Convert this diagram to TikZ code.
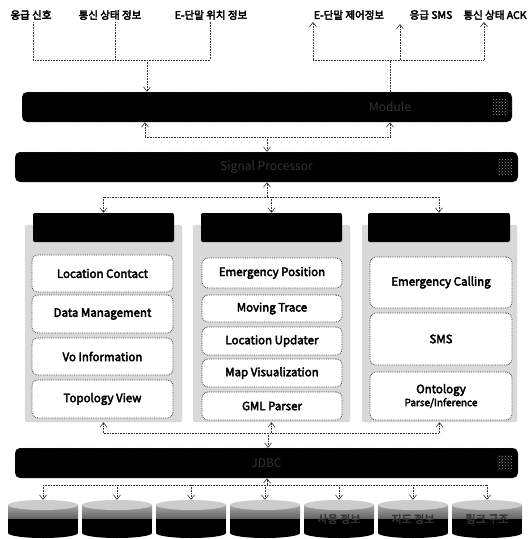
\documentclass[tikz,border=0pt]{standalone}
\usepackage{fontspec}
\setmainfont{Noto Sans CJK KR}[AutoFakeBold=3.5]
\usetikzlibrary{arrows.meta,patterns}

\begin{document}
\begin{tikzpicture}[x=1pt,y=-1pt,font=\bfseries\fontsize{11.5}{13}\selectfont,>={Straight Barb[length=4.5pt,width=7pt]},
lbl/.style={font=\bfseries\fontsize{10.5}{12}\selectfont, inner sep=2pt},
bar/.style={fill=black, draw=gray!60, densely dotted, rounded corners=5pt, inner sep=0pt, minimum width=503pt, minimum height=30pt, text=gray!40!black, font=\fontsize{12}{13}\selectfont},
icon/.style={pattern=crosshatch dots, pattern color=gray!75, minimum size=15pt, inner sep=0pt},
head/.style={fill=black, rounded corners=2pt, minimum width=141pt, minimum height=29pt, inner sep=0pt},
panel/.style={fill=gray!30, draw=gray!55, densely dotted, rounded corners=2pt, inner sep=0pt, minimum height=197pt},
item/.style={draw=black!75, fill=white, densely dotted, thick, rounded corners=6pt, align=center, inner sep=0pt},
db/.style={minimum width=70pt, minimum height=38pt, inner sep=0pt, text=gray!40!black, font=\bfseries\fontsize{11}{12}\selectfont,
  path picture={
    \shade[top color=gray!50, bottom color=black] ([yshift=-5pt]path picture bounding box.north west) rectangle ([yshift=19pt]path picture bounding box.south east);
    \fill[black] ([yshift=19.5pt]path picture bounding box.south west) rectangle ([yshift=5pt]path picture bounding box.south east);
    \fill[black] ([yshift=5pt]path picture bounding box.south) ellipse [x radius=35pt, y radius=5pt];
    \fill[gray!40] ([yshift=-5pt]path picture bounding box.north) ellipse [x radius=35pt, y radius=5pt];}},
link/.style={densely dotted, semithick, black!80},
arrow/.style={link, ->}]
\useasboundingbox (0,0) rectangle (529,539);
% input / output labels
\node[lbl] (sig) at (31,15) {응급 신호};
\node[lbl] (stat) at (110,15) {통신 상태 정보};
\node[lbl] (pos) at (211,15) {E-단말 위치 정보};
\node[lbl] (ctl) at (349,15) {E-단말 제어정보};
\node[lbl] (sms) at (431,15) {응급 SMS};
\node[lbl] (ack) at (495,15) {통신 상태 ACK};
% bars
\node[bar, minimum width=490pt] (comm) at (267,107) {};
\node[text=gray!40!black, font=\fontsize{12}{13}\selectfont] (modtxt) at (390,107) {Module};
\node[bar] (proc) at (266.5,167) {Signal Processor};
\node[bar] (jdbc) at (266.5,463) {JDBC};
\node[icon] (ic1) at (500,107) {};
\node[icon] (ic2) at (505,167) {};
\node[icon] (ic3) at (505,463) {};
% inputs to bar
\coordinate (inl) at (33,60);\coordinate (inr) at (210,60);\coordinate (inj) at (147,60);
\draw[link] (sig.south -| inl) -- (inl) -- (inr) -- (inr |- pos.south);
\draw[link] (stat.south -| 115,0) -- (115,60);
\draw[arrow] (inj) -- (inj |- comm.north);
% bar to outputs
\coordinate (outl) at (313,60);\coordinate (outr) at (484,60);\coordinate (outj) at (390,60);
\draw[link] (outl) -- (outr);
\draw[arrow] (outl) -- (outl |- ctl.south);\draw[arrow] (400,60) -- (400,24);\draw[arrow] (outr) -- (outr |- ack.south);
\draw[link] (outj |- comm.north) -- (outj);
% bar 1 <-> bar 2
\coordinate (j1l) at (145,137);\coordinate (j1r) at (390,137);\coordinate (j1) at (267,137);
\draw[link] (j1l) -- (j1r);
\draw[arrow] (j1l) -- (j1l |- comm.south);\draw[arrow] (j1r) -- (j1r |- comm.south);
\draw[arrow] (j1) -- (j1 |- proc.north);
% modules
\node[panel, minimum width=157pt] (pan1) at (103.5,323.5) {};
\node[panel, minimum width=157pt] (pan2) at (271.5,323.5) {};
\node[panel, minimum width=155pt] (pan3) at (439.5,323.5) {};
\node[head] (head1) at (103.5,227.5) {};
\node[head] (head2) at (271.5,227.5) {};
\node[head, minimum width=142pt] (head3) at (439,227.5) {};
\node[item, minimum width=141pt, minimum height=37pt] (loc) at (102.5,273.5) {Location Contact};
\node[item, minimum width=141pt, minimum height=38pt] (data) at (102.5,314) {Data Management};
\node[item, minimum width=141pt, minimum height=37pt] (vo) at (102.5,356.5) {Vo Information};
\node[item, minimum width=141pt, minimum height=38pt] (topo) at (102.5,399) {Topology View};
\node[item, minimum width=140pt, minimum height=30pt] (emp) at (272,273) {Emergency Position};
\node[item, minimum width=140pt, minimum height=27pt] (trace) at (272,308.5) {Moving Trace};
\node[item, minimum width=140pt, minimum height=28pt] (upd) at (272,341) {Location Updater};
\node[item, minimum width=140pt, minimum height=28pt] (map) at (272,373) {Map Visualization};
\node[item, minimum width=140pt, minimum height=28pt] (gml) at (272,406) {GML Parser};
\node[item, minimum width=142pt, minimum height=51pt] (call) at (441,282.5) {Emergency Calling};
\node[item, minimum width=142pt, minimum height=52pt] (smsm) at (441,339) {SMS};
\node[item, minimum width=142pt, minimum height=48pt] (onto) at (441,396) {Ontology\\{\fontsize{10}{11}\selectfont Parse/Inference}};
% bar 2 -> modules
\coordinate (j2) at (267,197);
\draw[link] (head1.north |- j2) -- (head3.north |- j2);
\draw[arrow] (j2) -- (j2 |- proc.south);
\draw[arrow] (head1.north |- j2) -- (head1.north);\draw[arrow] (head2.north |- j2) -- (head2.north);\draw[arrow] (head3.north |- j2) -- (head3.north);
% modules -> bar 3
\coordinate (j3) at (268,433);
\draw[link] (pan1.south |- j3) -- (pan3.south |- j3);
\draw[arrow] (pan1.south |- j3) -- (pan1.south);\draw[arrow] (pan2.south |- j3) -- (pan2.south);\draw[arrow] (pan3.south |- j3) -- (pan3.south);
\draw[arrow] (j3) -- (j3 |- jdbc.north);
% databases
\node[db] (db1) at (43,519) {};
\node[db] (db2) at (117,519) {};
\node[db] (db3) at (191,519) {};
\node[db] (db4) at (265,519) {};
\node[db] (db5) at (339,519) {사용 정보};
\node[db] (db6) at (413,519) {지도 정보};
\node[db] (db7) at (487,519) {링크 구조};
\coordinate (j4) at (267,485);
\draw[link] (db1.north |- j4) -- (db7.north |- j4);
\draw[arrow] (j4) -- (j4 |- jdbc.south);
\draw[arrow] (db1.north |- j4) -- (db1.north);\draw[arrow] (db2.north |- j4) -- (db2.north);\draw[arrow] (db3.north |- j4) -- (db3.north);\draw[arrow] (db4.north |- j4) -- (db4.north);
\draw[arrow] (db5.north |- j4) -- (db5.north);\draw[arrow] (db6.north |- j4) -- (db6.north);\draw[arrow] (db7.north |- j4) -- (db7.north);
\end{tikzpicture}
\end{document}
